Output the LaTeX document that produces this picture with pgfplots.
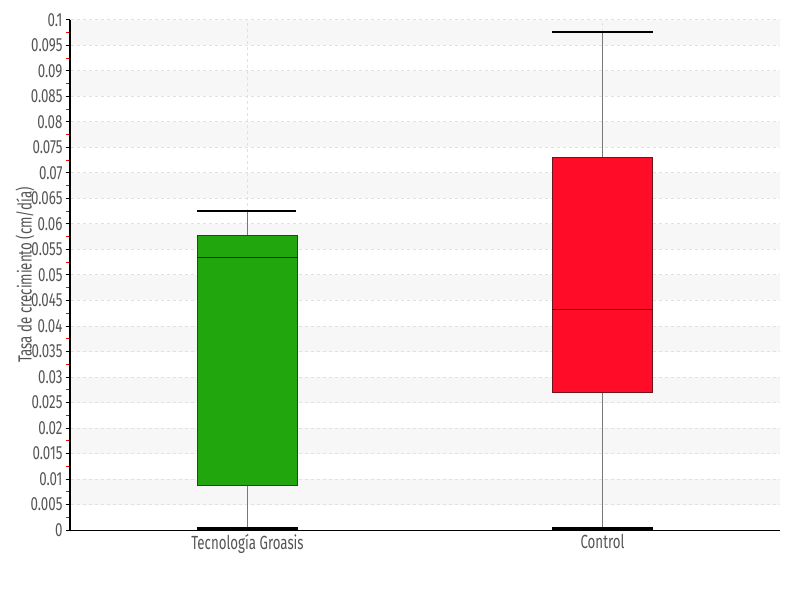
\documentclass[border=0pt]{standalone}
\usepackage{fontspec}
\setmainfont{Fira Sans}[FakeStretch=0.7]
\usepackage{pgfplots}
\pgfplotsset{compat=1.18}

\definecolor{boxgreen}{RGB}{34,166,14}
\definecolor{boxgreenedge}{RGB}{24,80,14}
\definecolor{boxred}{RGB}{255,13,40}
\definecolor{boxrededge}{RGB}{110,20,30}
\definecolor{labelgray}{RGB}{85,85,85}
\definecolor{bandgray}{RGB}{247,247,247}
\definecolor{gridgray}{RGB}{225,225,225}
\definecolor{stemgray}{RGB}{120,120,120}

\begin{document}
\begin{tikzpicture}
\path (0,0) rectangle (800pt,600pt);
\begin{axis}[
    at={(70pt,70pt)}, anchor=south west,
    scale only axis,
    width=710pt, height=510pt,
    xmin=0.5, xmax=2.5,
    ymin=0, ymax=0.1,
    clip=false,
    xtick={1,2},
    xticklabels={Tecnología Groasis, Control},
    ytick distance=0.005,
    minor y tick num=1,
    axis on top,
    axis x line*=bottom,
    axis y line*=left,
    axis line style={black, line width=1pt},
    tick align=outside,
    major tick length=4pt,
    minor tick length=4pt,
    xtick style={draw=none},
    major y tick style={black, line width=1pt},
    minor y tick style={red, line width=1pt},
    scaled y ticks=false,
    yticklabel style={/pgf/number format/fixed, /pgf/number format/precision=3},
    xticklabel style={yshift=3pt},
    /pgf/number format/assume math mode=true,
    tick label style={font=\fontsize{19}{20}\selectfont, text=labelgray},
    ylabel={Tasa de crecimiento (cm/día)},
    ylabel style={font=\fontsize{19}{20}\selectfont, text=labelgray,
      at={(axis description cs:-0.0634,0.5)}, anchor=center},
]
% alternating background bands and dashed grid
\pgfplotsinvokeforeach{0,...,9}{
  \fill[bandgray] (axis cs:0.502,{0.005+0.01*#1}) rectangle (axis cs:2.5,{0.01+0.01*#1});
}
\pgfplotsinvokeforeach{1,...,20}{
  \draw[gridgray, dashed, line width=1pt] (axis cs:0.502,{0.005*#1}) -- (axis cs:2.5,{0.005*#1});
}
\draw[gridgray, dashed, line width=1pt] (axis cs:1,0) -- (axis cs:1,0.1);
\draw[gridgray, dashed, line width=1pt] (axis cs:2,0) -- (axis cs:2,0.1);

% Tecnologia Groasis: whiskers 0.0002 / 0.0626, quartiles 0.0088 / 0.0578, median 0.0535
\addplot[stemgray, line width=1.2pt] coordinates {(1,0.0002) (1,0.0088)};
\addplot[stemgray, line width=1.2pt] coordinates {(1,0.0578) (1,0.0626)};
\addplot[fill=boxgreen, draw=boxgreenedge, line width=1pt]
  coordinates {(0.859,0.0088) (1.141,0.0088) (1.141,0.0578) (0.859,0.0578)} -- cycle;
\addplot[boxgreenedge!60!black, line width=1.2pt] coordinates {(0.859,0.0535) (1.141,0.0535)};
\addplot[black, line width=2.2pt] coordinates {(0.859,0.0626) (1.136,0.0626)};
\addplot[black, line width=2.2pt] coordinates {(0.859,0.0003) (1.141,0.0003)};

% Control: whiskers 0.0002 / 0.0977, quartiles 0.0269 / 0.0731, median 0.0433
\addplot[stemgray, line width=1.2pt] coordinates {(2,0.0002) (2,0.0269)};
\addplot[stemgray, line width=1.2pt] coordinates {(2,0.0731) (2,0.0977)};
\addplot[fill=boxred, draw=boxrededge, line width=1pt]
  coordinates {(1.859,0.0269) (2.141,0.0269) (2.141,0.0731) (1.859,0.0731)} -- cycle;
\addplot[boxrededge!60!black, line width=1.2pt] coordinates {(1.859,0.0433) (2.141,0.0433)};
\addplot[black, line width=2.2pt] coordinates {(1.859,0.0977) (2.141,0.0977)};
\addplot[black, line width=2.2pt] coordinates {(1.859,0.0003) (2.141,0.0003)};

% left axis line, redrawn over the bands
\draw[black, line width=1.2pt] (axis cs:0.5,0) -- (axis cs:0.5,0.1);
\end{axis}
\end{tikzpicture}
\end{document}
